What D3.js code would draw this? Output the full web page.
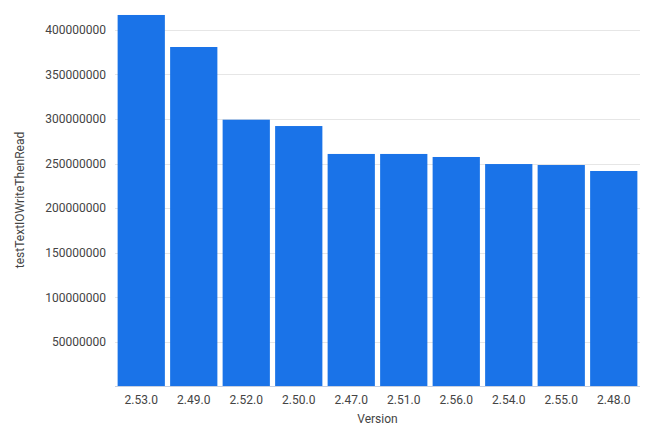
<!DOCTYPE html>
<html>
<head>
<meta charset="utf-8">
<script src="https://cdn.jsdelivr.net/npm/d3@7"></script>
<style>
  html, body { margin: 0; padding: 0; background: #fff; }
  svg { display: block; font-family: Roboto, "Noto Sans", sans-serif; }
</style>
</head>
<body>
<svg id="chart" width="650" height="442"></svg>
<script>
const categories = ["2.53.0", "2.49.0", "2.52.0", "2.50.0", "2.47.0", "2.51.0", "2.56.0", "2.54.0", "2.55.0", "2.48.0"];
const values = [416500000, 380600000, 299100000, 292000000, 260700000, 260700000, 257300000, 249400000, 248300000, 241600000];
const yTicks = [50000000, 100000000, 150000000, 200000000, 250000000, 300000000, 350000000, 400000000];
const xTitle = "Version";
const yTitle = "testTextIOWriteThenRead";

const svg = d3.select("#chart");
const left = 115, right = 640, bottom = 386.5;

const x = d3.scaleBand().domain(categories).range([left, right]).paddingInner(0.1).paddingOuter(0.05);
const y = d3.scaleLinear().domain([0, 400000000]).range([bottom, 29.7]);

// gridlines
svg.append("g").selectAll("line").data(yTicks).join("line")
  .attr("x1", left).attr("x2", right)
  .attr("y1", d => Math.round(y(d)) + 0.5).attr("y2", d => Math.round(y(d)) + 0.5)
  .attr("stroke", "#e6e6e6").attr("stroke-width", 1);

// bars
svg.append("g").selectAll("rect").data(values).join("rect")
  .attr("x", (d, i) => x(categories[i]))
  .attr("width", x.bandwidth())
  .attr("y", d => y(d))
  .attr("height", d => bottom - y(d))
  .attr("fill", "#1a73e8");

// baseline
svg.append("line").attr("x1", left).attr("x2", right)
  .attr("y1", bottom).attr("y2", bottom)
  .attr("stroke", "#c7d0e1").attr("stroke-width", 1);

// y axis labels
const yAxis = d3.axisLeft(y).tickValues(yTicks).tickSize(0).tickPadding(0).tickFormat(d3.format("d"));
const yg = svg.append("g").attr("transform", `translate(106,0)`).call(yAxis);
yg.select(".domain").remove();
yg.selectAll("text").attr("fill", "#444").style("font-size", "12px").style("font-family", "Roboto");

// x axis labels
const xAxis = d3.axisBottom(x).tickSize(0).tickPadding(0);
const xg = svg.append("g").attr("transform", `translate(0,${bottom + 9})`).call(xAxis);
xg.select(".domain").remove();
xg.selectAll("text").attr("fill", "#444").style("font-size", "12px").style("font-family", "Roboto");

// titles
svg.append("text").attr("x", (left + right) / 2).attr("y", 423)
  .attr("text-anchor", "middle").attr("fill", "#444").style("font-size", "12px").text(xTitle);
svg.append("text").attr("transform", "translate(24,200) rotate(-90)")
  .attr("text-anchor", "middle").attr("fill", "#444").style("font-size", "12px").text(yTitle);
</script>
</body>
</html>
